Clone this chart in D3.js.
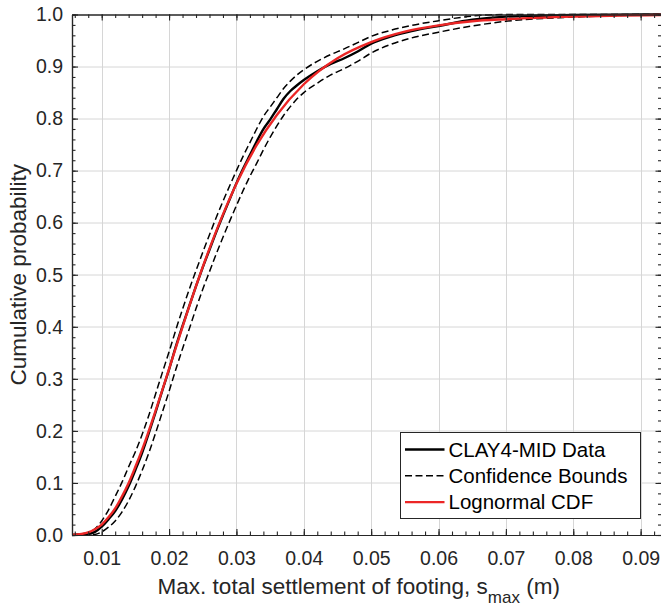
<!DOCTYPE html>
<html>
<head>
<meta charset="utf-8">
<script src="https://cdn.jsdelivr.net/npm/d3@7"></script>
<style>
  body { margin: 0; background: #fff; }
  svg { display: block; font-family: "Liberation Sans", Arial, sans-serif; }
</style>
</head>
<body>
<div id="chart"></div>
<script>
// values
var settlement = [0.0056, 0.008, 0.009, 0.010, 0.011, 0.012, 0.013, 0.014, 0.015, 0.016,
  0.017, 0.018, 0.019, 0.020, 0.021, 0.022, 0.023, 0.024, 0.025, 0.026,
  0.027, 0.028, 0.029, 0.030, 0.031, 0.032, 0.033, 0.034, 0.035, 0.036,
  0.037, 0.038, 0.039, 0.040, 0.042, 0.044, 0.046, 0.048, 0.050, 0.053,
  0.056, 0.060, 0.065, 0.070, 0.080, 0.090, 0.0931];
var empirical = [0, 0.002, 0.006, 0.016, 0.030, 0.046, 0.068, 0.094, 0.125, 0.158,
  0.196, 0.236, 0.278, 0.318, 0.362, 0.402, 0.440, 0.478, 0.514, 0.548,
  0.582, 0.614, 0.645, 0.676, 0.704, 0.730, 0.756, 0.780, 0.798, 0.818,
  0.838, 0.853, 0.864, 0.874, 0.891, 0.905, 0.916, 0.929, 0.944, 0.958,
  0.968, 0.978, 0.990, 0.996, 0.999, 1, 1];
var upperBound = [0, 0.005, 0.012, 0.027, 0.048, 0.074, 0.101, 0.131, 0.160, 0.193,
  0.230, 0.271, 0.312, 0.352, 0.394, 0.434, 0.472, 0.508, 0.543, 0.577,
  0.610, 0.641, 0.671, 0.700, 0.728, 0.754, 0.780, 0.804, 0.822, 0.840,
  0.858, 0.872, 0.884, 0.894, 0.910, 0.923, 0.934, 0.946, 0.958, 0.970,
  0.979, 0.988, 0.997, 1, 1, 1, 1];
var lowerBound = [0, 0, 0.001, 0.006, 0.015, 0.027, 0.044, 0.066, 0.093, 0.124,
  0.158, 0.196, 0.236, 0.276, 0.318, 0.358, 0.396, 0.435, 0.472, 0.506,
  0.540, 0.572, 0.603, 0.633, 0.662, 0.689, 0.714, 0.740, 0.764, 0.786,
  0.806, 0.823, 0.838, 0.850, 0.868, 0.884, 0.896, 0.910, 0.926, 0.943,
  0.955, 0.966, 0.978, 0.987, 0.995, 0.999, 1];
var fitX = [0.0056, 0.007, 0.008, 0.009, 0.010, 0.011, 0.012, 0.013, 0.014, 0.015,
  0.016, 0.018, 0.020, 0.022, 0.025, 0.028, 0.030, 0.033, 0.036, 0.040,
  0.045, 0.050, 0.055, 0.060, 0.065, 0.070, 0.080, 0.0931];
var fitCdf = [0.0004, 0.002, 0.005, 0.011, 0.020, 0.034, 0.051, 0.074, 0.100, 0.131,
  0.164, 0.239, 0.319, 0.400, 0.515, 0.616, 0.675, 0.749, 0.807, 0.866,
  0.916, 0.947, 0.967, 0.979, 0.987, 0.991, 0.996, 0.999];
var xTicks = [0.01, 0.02, 0.03, 0.04, 0.05, 0.06, 0.07, 0.08, 0.09];
var xMinorTicks = d3.range(0.006, 0.0931, 0.002);
var yTicks = [0, 0.1, 0.2, 0.3, 0.4, 0.5, 0.6, 0.7, 0.8, 0.9, 1.0];
var yMinorTicks = d3.range(0, 1.001, 0.02);
var legendLabels = ['CLAY4-MID Data', 'Confidence Bounds', 'Lognormal CDF'];

var width = 661, height = 609;
var margin = {top: 14.5, right: -0.5, bottom: 74, left: 72};
var plotW = width - margin.left - margin.right;
var plotH = height - margin.top - margin.bottom;
var ink = '#262626';
var red = '#ec2626';

var x = d3.scaleLinear().domain([0.00559, 0.0931]).range([0, plotW]);
var y = d3.scaleLinear().domain([0, 1]).range([plotH, 0]);

var svg = d3.select('#chart').append('svg')
    .attr('width', width)
    .attr('height', height);

var g = svg.append('g')
    .attr('transform', 'translate(' + margin.left + ',' + margin.top + ')');

// grid
var grid = g.append('g').attr('class', 'grid');
grid.selectAll('line.gx').data(xTicks).enter().append('line')
    .attr('x1', function (d) { return Math.round(x(d)) + 0.5; })
    .attr('x2', function (d) { return Math.round(x(d)) + 0.5; })
    .attr('y1', 0).attr('y2', plotH)
    .attr('stroke', '#d6d6d6');
grid.selectAll('line.gy').data(yTicks.slice(1, -1)).enter().append('line')
    .attr('y1', function (d) { return Math.round(y(d)) + 0.5; })
    .attr('y2', function (d) { return Math.round(y(d)) + 0.5; })
    .attr('x1', 0).attr('x2', plotW)
    .attr('stroke', '#d6d6d6');

// series
var line = d3.line()
    .x(function (d) { return x(d[0]); })
    .y(function (d) { return y(d[1]); })
    .curve(d3.curveMonotoneX);

svg.append('defs').append('clipPath').attr('id', 'plotclip')
    .append('rect').attr('x', 0).attr('y', -2).attr('width', plotW).attr('height', plotH + 4);

var series = g.append('g').attr('clip-path', 'url(#plotclip)');

[upperBound, lowerBound].forEach(function (b) {
  series.append('path')
      .datum(d3.zip(settlement, b))
      .attr('d', line)
      .attr('fill', 'none').attr('stroke', '#000').attr('stroke-width', 1.5)
      .attr('stroke-dasharray', '7,3.5');
});
series.append('path')
    .datum(d3.zip(settlement, empirical))
    .attr('d', line)
    .attr('fill', 'none').attr('stroke', '#000').attr('stroke-width', 2.4);
series.append('path')
    .datum(d3.zip(fitX, fitCdf))
    .attr('d', line)
    .attr('fill', 'none').attr('stroke', red).attr('stroke-width', 2.4);

// axes, ticks pointing inward on all four sides
function styleAxis(sel) {
  sel.select('.domain').attr('stroke', ink).attr('stroke-width', 1.2);
  sel.selectAll('.tick line').attr('stroke', ink).attr('stroke-width', 1.1);
  sel.selectAll('.tick text').attr('fill', ink).style('font-size', '19.5px');
  sel.attr('font-family', null);
}

g.append('g').attr('transform', 'translate(0,' + plotH + ')')
    .call(d3.axisBottom(x).tickValues(xMinorTicks).tickFormat('').tickSize(-3.5).tickSizeOuter(0))
    .call(styleAxis);
g.append('g').attr('transform', 'translate(0,' + plotH + ')')
    .call(d3.axisBottom(x).tickValues(xTicks).tickFormat(d3.format('.2f'))
      .tickSize(-6).tickSizeOuter(0).tickPadding(16))
    .call(styleAxis);
g.append('g')
    .call(d3.axisTop(x).tickValues(xMinorTicks).tickFormat('').tickSize(-3.5).tickSizeOuter(0))
    .call(styleAxis);
g.append('g')
    .call(d3.axisTop(x).tickValues(xTicks).tickFormat('').tickSize(-6).tickSizeOuter(0))
    .call(styleAxis);

g.append('g')
    .call(d3.axisLeft(y).tickValues(yMinorTicks).tickFormat('').tickSize(-3.5).tickSizeOuter(0))
    .call(styleAxis);
g.append('g')
    .call(d3.axisLeft(y).tickValues(yTicks).tickFormat(d3.format('.1f'))
      .tickSize(-6).tickSizeOuter(0).tickPadding(9))
    .call(styleAxis);
g.append('g').attr('transform', 'translate(' + plotW + ',0)')
    .call(d3.axisRight(y).tickValues(yMinorTicks).tickFormat('').tickSize(-3.5).tickSizeOuter(0))
    .call(styleAxis);
g.append('g').attr('transform', 'translate(' + plotW + ',0)')
    .call(d3.axisRight(y).tickValues(yTicks).tickFormat('').tickSize(-6).tickSizeOuter(0))
    .call(styleAxis);

// axis titles
var xTitle = svg.append('text')
    .attr('x', margin.left + plotW / 2 - 8)
    .attr('y', 594)
    .attr('text-anchor', 'middle')
    .attr('fill', ink)
    .style('font-size', '22.5px');
xTitle.append('tspan').text('Max. total settlement of footing, s');
xTitle.append('tspan').attr('dy', 9).style('font-size', '17px').text('max');
xTitle.append('tspan').attr('dy', -9).text(' (m)');

svg.append('text')
    .attr('transform', 'translate(26,' + (margin.top + plotH / 2) + ') rotate(-90)')
    .attr('text-anchor', 'middle')
    .attr('fill', ink)
    .style('font-size', '22.5px')
    .text('Cumulative probability');

// legend
var legend = svg.append('g').attr('transform', 'translate(400.5,432.5)');
legend.append('rect')
    .attr('width', 240).attr('height', 86)
    .attr('fill', '#fff').attr('stroke', ink).attr('stroke-width', 1);

var legendStyles = [
  {stroke: '#000', width: 2.4, dash: null},
  {stroke: '#000', width: 1.5, dash: '7,3.5'},
  {stroke: red, width: 2.4, dash: null}
];

var rows = legend.selectAll('g.item').data(legendLabels).enter().append('g')
    .attr('class', 'item')
    .attr('transform', function (d, i) { return 'translate(0,' + (17 + i * 26.3) + ')'; });
rows.append('line')
    .attr('x1', 4.5).attr('x2', 44)
    .attr('stroke', function (d, i) { return legendStyles[i].stroke; })
    .attr('stroke-width', function (d, i) { return legendStyles[i].width; })
    .attr('stroke-dasharray', function (d, i) { return legendStyles[i].dash; });
rows.append('text')
    .attr('x', 48)
    .attr('dy', '0.36em')
    .attr('fill', '#000')
    .style('font-size', '20.5px')
    .text(function (d) { return d; });
</script>
</body>
</html>
